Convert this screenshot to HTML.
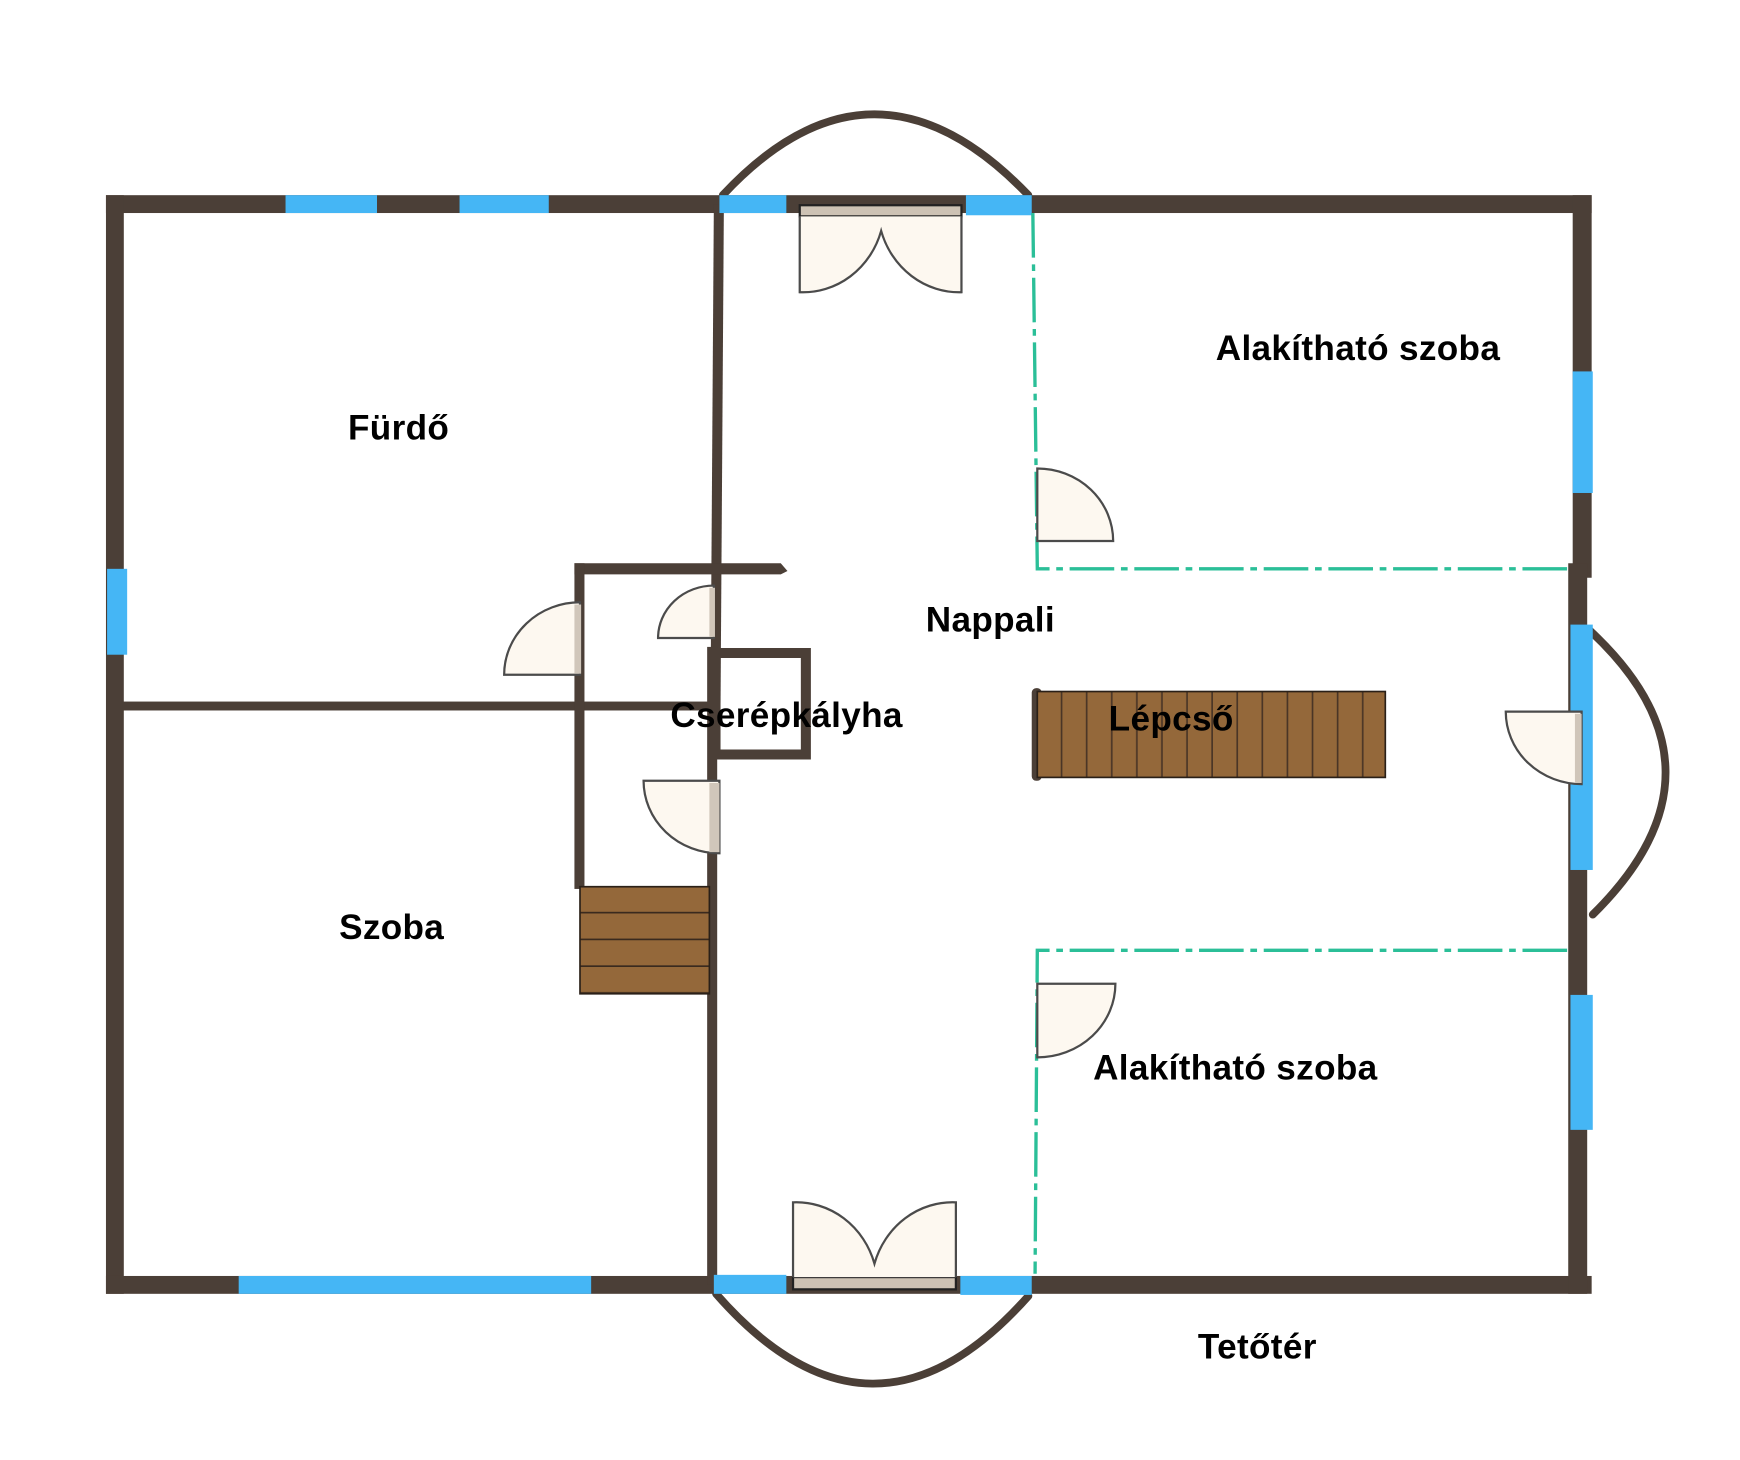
<!DOCTYPE html>
<html><head><meta charset="utf-8"><style>
html,body{margin:0;padding:0;background:#fff;width:1740px;height:1460px;overflow:hidden}
svg{display:block}
text{font-family:"Liberation Sans",Arial,sans-serif;font-weight:bold;font-size:31.5px;letter-spacing:0.3px;fill:#000}
</style></head><body>
<svg width="1740" height="1460" viewBox="0 0 1560 1309" preserveAspectRatio="none" xmlns="http://www.w3.org/2000/svg">
<defs>
<pattern id="vs" x="930" y="0" width="22.5" height="10" patternUnits="userSpaceOnUse">
<rect width="22.5" height="10" fill="#94683a"/><rect x="21" width="1.5" height="10" fill="#4a3526"/></pattern>
<pattern id="hs" x="0" y="795" width="10" height="24" patternUnits="userSpaceOnUse">
<rect width="10" height="24" fill="#94683a"/><rect y="22.5" width="10" height="1.5" fill="#3a2a1e"/></pattern>
</defs>
<g fill="none" stroke="#4b3f37" stroke-linecap="round">
<path d="M648,175 Q783,30 922,175" stroke-width="7"/>
<path d="M642,1160 Q782,1320 922,1162" stroke-width="7"/>
<path d="M1425,565 Q1560,690 1428,820" stroke-width="7"/>
</g>
<g fill="#4b3f37">
<rect x="95" y="175" width="1332" height="16"/>
<rect x="95" y="175" width="16" height="985"/>
<rect x="95" y="1144" width="1332" height="16"/>
<rect x="1410" y="175" width="17" height="343"/>
<rect x="1406" y="505" width="17" height="655"/>
<polygon points="640,183 649,183 646,630 637,630"/>
<rect x="634" y="580" width="9" height="572"/>
<rect x="110" y="629" width="530" height="8"/>
<polygon points="515,505 700,505 706,512 700,515 515,515"/>
<rect x="515" y="505" width="9" height="292"/>
<path d="M637,581h90v100h-90zM646,590v82h72v-82z" fill-rule="evenodd"/>
<rect x="925" y="617" width="9" height="83" rx="4"/>
</g>
<g fill="#45b6f5">
<rect x="256" y="175" width="82" height="16"/>
<rect x="412" y="175" width="80" height="16"/>
<rect x="645" y="175" width="60" height="16"/>
<rect x="866" y="175" width="59" height="18"/>
<rect x="96" y="510" width="18" height="77"/>
<rect x="214" y="1144" width="316" height="16"/>
<rect x="640" y="1143" width="65" height="17"/>
<rect x="861" y="1144" width="64" height="17"/>
<rect x="1410" y="333" width="18" height="109"/>
<rect x="1408" y="560" width="20" height="220"/>
<rect x="1408" y="892" width="20" height="121"/>
</g>
<g stroke="#2bbf98" stroke-width="3" fill="none" stroke-dasharray="40,6,6,6">
<path d="M926,191 L930,510 L1410,510"/>
<path d="M1405,852 L930,852 L928,1142"/>
</g>
<rect x="930" y="620" width="312" height="77" fill="url(#vs)" stroke="#2a2018" stroke-width="1.5"/>
<rect x="520" y="795" width="116" height="96" fill="url(#hs)" stroke="#2a2018" stroke-width="1.5"/>
<g fill="#fdf8f0" stroke="#4b4b4b" stroke-width="2">
<rect x="717" y="184" width="145" height="10" fill="#cdc2b4" stroke="#222"/>
<path d="M717,194 L717,262 A73,77 0 0 0 790,207 A73,77 0 0 0 862,262 L862,194"/>
<rect x="711" y="1145" width="146" height="11" fill="#cdc2b4" stroke="#222"/>
<path d="M711,1145 L711,1078 A73,77 0 0 1 784,1133 A73,77 0 0 1 857,1078 L857,1145"/>
<path d="M520,540 A68,65 0 0 0 452,605 L520,605 Z"/>
<path d="M640,525 A50,47 0 0 0 590,572 L640,572 Z"/>
<path d="M577,700 L645,700 L645,765 A68,65 0 0 1 577,700 Z"/>
<path d="M930,420 A68,65 0 0 1 998,485 L930,485 Z"/>
<path d="M930,882 L1000,882 A70,66 0 0 1 930,948 Z"/>
<path d="M1350,638 L1418,638 L1418,703 A68,65 0 0 1 1350,638 Z"/>
</g>
<g fill="#d0c6ba">
<rect x="515" y="542" width="6" height="62"/>
<rect x="636" y="527" width="5" height="44"/>
<rect x="636" y="702" width="9" height="62"/>
<rect x="1412" y="640" width="6" height="62"/>
</g>
<text x="312" y="394">Fürdő</text>
<text x="304" y="842">Szoba</text>
<text x="830" y="566">Nappali</text>
<text x="601" y="652">Cserépkályha</text>
<text x="994" y="655">Lépcső</text>
<text x="1090" y="323">Alakítható szoba</text>
<text x="980" y="968">Alakítható szoba</text>
<text x="1074" y="1218">Tetőtér</text>
</svg>
</body></html>
